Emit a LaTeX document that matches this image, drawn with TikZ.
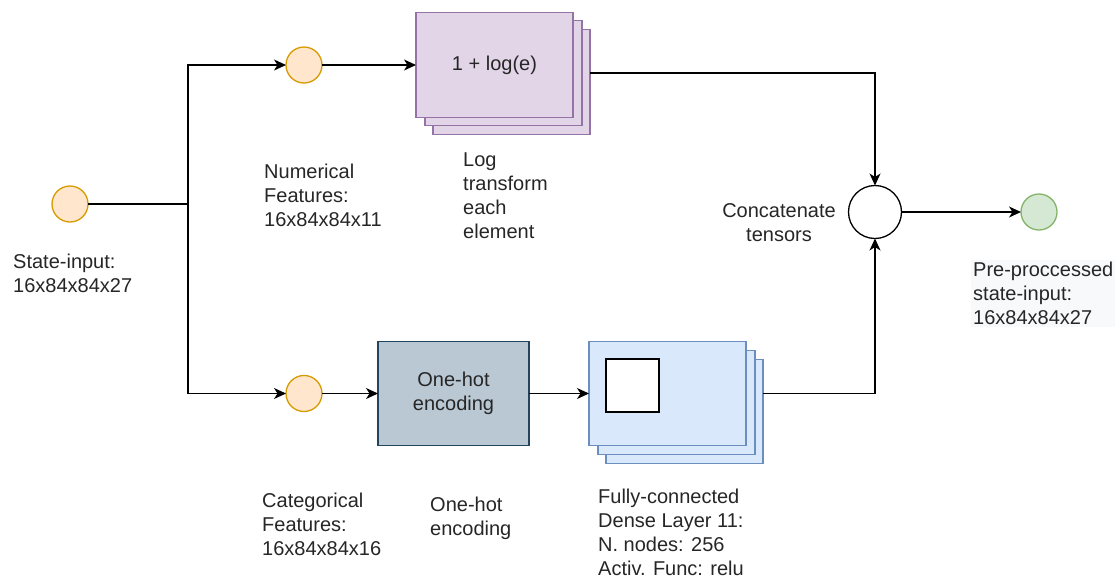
\documentclass[tikz,border=0pt]{standalone}
\usepackage{fontspec}
\setmainfont{Liberation Sans}
\usetikzlibrary{arrows.meta}
\definecolor{txt}{HTML}{262626}
\definecolor{orangeF}{HTML}{FFE6CC}
\definecolor{orangeS}{HTML}{D79B00}
\definecolor{greenF}{HTML}{D5E8D4}
\definecolor{greenS}{HTML}{82B366}
\definecolor{purpleF}{HTML}{E1D5E7}
\definecolor{purpleS}{HTML}{9673A6}
\definecolor{blueF}{HTML}{DAE8FC}
\definecolor{blueS}{HTML}{6C8EBF}
\definecolor{slateF}{HTML}{BAC8D3}
\definecolor{slateS}{HTML}{23445D}
\definecolor{labelbg}{HTML}{F8F9FA}
\begin{document}
\begin{tikzpicture}[x=1pt,y=-1pt,
  lbl/.style={font=\fontsize{20}{24}\selectfont, text=txt, align=left, inner sep=0pt, anchor=north west},
  port/.style={circle, draw=orangeS, fill=orangeF, line width=1.3pt, minimum size=36pt, inner sep=0pt, outer sep=0pt},
  layer/.style={rectangle, minimum width=157pt, minimum height=105pt, line width=1.3pt, inner sep=0pt, outer sep=0pt,
                font=\fontsize{20}{24}\selectfont, text=txt, align=center},
  wire/.style={line width=1.3pt, draw=black},
  arr/.style={wire, -{Stealth[length=12pt,width=11pt,inset=3.5pt]}}]

\useasboundingbox (0,0) rectangle (1119,579);

% input and the two feature branches
\node[port] (in)   at (70,204) {};
\node[port] (num)  at (304,65) {};
\node[port] (catf) at (304,393.5) {};
\coordinate (split) at (188,204);

% log-transform stack
\node[layer, draw=purpleS, fill=purpleF] (log3) at (511.5,82) {};
\node[layer, draw=purpleS, fill=purpleF] (log2) at (503.5,73) {};
\node[layer, draw=purpleS, fill=purpleF] (log1) at (494.5,65) {1 + log(e)};

% one-hot encoder
\node[layer, minimum width=151pt, minimum height=104pt, draw=slateS, fill=slateF] (onehot) at (453.5,393.5) {One-hot\\encoding};

% dense layer stack
\node[layer, minimum height=104pt, draw=blueS, fill=blueF] (fc3) at (684.5,411.5) {};
\node[layer, minimum height=104pt, draw=blueS, fill=blueF] (fc2) at (676.5,402.5) {};
\node[layer, minimum height=104pt, draw=blueS, fill=blueF] (fc1) at (667.5,393.5) {};
\node[rectangle, draw=black, fill=white, line width=1.3pt, minimum size=53pt, inner sep=0pt] (unit) at (632.5,385.5) {};

% concatenation and output
\node[circle, draw=black, fill=white, line width=1.3pt, minimum size=53pt, inner sep=0pt, outer sep=0pt] (cat) at (875,212) {};
\node[circle, draw=greenS, fill=greenF, line width=1.3pt, minimum size=36pt, inner sep=0pt, outer sep=0pt] (out) at (1039,212) {};

% connectors
\draw[wire] (in) -- (split);
\draw[arr] (split) |- (num);
\draw[arr] (split) |- (catf);
\draw[arr] (num) -- (num -| log1.west);
\draw[arr] (catf) -- (catf -| onehot.west);
\draw[arr] (onehot) -- (onehot -| fc1.west);
\draw[arr] (log3.east |- log2.center) -| (cat.north);
\draw[arr] (fc3.east |- fc1.center) -| (cat.south);
\draw[arr] (cat) -- (out);

% labels
\node[lbl] (lin)  at (13,254)  {State-input:\\16x84x84x27};
\node[lbl] (lnum) at (264,164) {Numerical\\Features:\\16x84x84x11};
\node[lbl] (llog) at (463,153) {Log\\transform\\each\\element};
\node[lbl] (lcat) at (262,493) {Categorical\\Features:\\16x84x84x16};
\node[lbl] (loh)  at (430,497) {One-hot\\encoding};
\node[lbl] (lfc)  at (598,489) {Fully-connected\\Dense Layer 11:\\N. nodes: 256\\Activ. Func: relu};
\node[lbl, anchor=north, align=center] (lcon) at (779,203) {Concatenate\\tensors};
\node[lbl, fill=labelbg, inner sep=2pt] (lout) at (971,260) {Pre-proccessed\\state-input:\\16x84x84x27};
\end{tikzpicture}
\end{document}
